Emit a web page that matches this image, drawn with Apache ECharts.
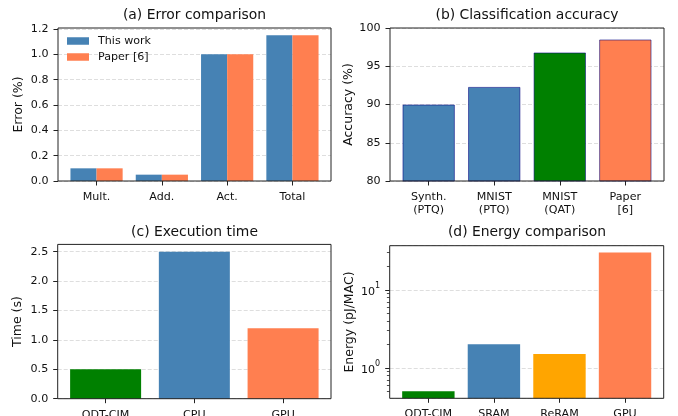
<!DOCTYPE html>
<html>
<head>
<meta charset="utf-8">
<script src="https://cdn.jsdelivr.net/npm/echarts@6/dist/echarts.min.js"></script>
<style>html,body{margin:0;padding:0;background:#fff}#c{width:678px;height:416px}</style>
</head>
<body>
<div id="c"></div>
<script>
// ---- data ----
const errCats = ['Mult.', 'Add.', 'Act.', 'Total'];
const errThisWork = [0.1, 0.05, 1.0, 1.15];
const errPaper = [0.1, 0.05, 1.0, 1.15];
const errTicks = [0, 0.2, 0.4, 0.6, 0.8, 1.0, 1.2];

const accCats = ['Synth.\n(PTQ)', 'MNIST\n(PTQ)', 'MNIST\n(QAT)', 'Paper\n[6]'];
const accValues = [90.0, 92.3, 96.8, 98.5];
const accTicks = [80, 85, 90, 95, 100];

const timeCats = ['ODT-CIM', 'CPU', 'GPU'];
const timeValues = [0.5, 2.5, 1.2];
const timeTicks = [0, 0.5, 1.0, 1.5, 2.0, 2.5];

const energyCats = ['ODT-CIM', 'SRAM', 'ReRAM', 'GPU'];
const energyValues = [0.5, 2.0, 1.5, 30];
const energyMinorTicks = [0.5, 0.6, 0.7, 0.8, 0.9, 2, 3, 4, 5, 6, 7, 8, 9, 20, 30];

// ---- styles ----
const FONT = 'DejaVu Sans';
const TXT = '#111';
const STEEL = '#4682B4', CORAL = '#FF7F50', GREEN = '#008000', ORANGE = '#FFA500';
const accColors = [STEEL, STEEL, GREEN, CORAL];
const timeColors = [GREEN, STEEL, CORAL];
const energyColors = [GREEN, STEEL, ORANGE, CORAL];

const tickFont = {fontSize: 11.1, color: TXT, fontFamily: FONT};
const nameFont = {fontSize: 12.5, color: TXT, fontFamily: FONT};
const split = {show: true, lineStyle: {color: '#dedede', type: [4, 2], width: 1}};

function frameGrid(l, t, w, h) {
  return {left: l, top: t, width: w, height: h, show: true, borderColor: '#222', borderWidth: 1,
    backgroundColor: 'transparent', z: 3, outerBoundsMode: 'none', containLabel: false};
}
function dataGrid(l, t, w, h) {
  return {left: l, top: t, width: w, height: h, outerBoundsMode: 'none', containLabel: false};
}
function frameX(gi) { return {gridIndex: gi, type: 'category', show: false, data: ['a']}; }
function dataX(gi, cats) {
  return {gridIndex: gi, type: 'category', data: cats,
    axisLine: {show: false},
    axisTick: {show: true, alignWithLabel: true, length: 4.5, lineStyle: {color: '#222'}},
    axisLabel: Object.assign({margin: 9.5, lineHeight: 13, interval: 0}, tickFont),
    splitLine: {show: false}};
}
function frameY(gi, min, max, ticks, dec, name) {
  return {gridIndex: gi, type: 'value', min: min, max: max, position: 'left',
    axisLine: {show: false},
    axisTick: {show: true, length: 4.5, customValues: ticks, lineStyle: {color: '#222'}},
    axisLabel: Object.assign({customValues: ticks, margin: 9.5, formatter: v => Number(v).toFixed(dec)}, tickFont),
    splitLine: split,
    name: name, nameLocation: 'middle', nameGap: 33, nameTextStyle: nameFont};
}
function hiddenY(gi, min, max) { return {gridIndex: gi, type: 'value', min: min, max: max, show: false}; }

const eMin = 0.407, eMax = 36.8;

const option = {
  animation: false,
  grid: [
    frameGrid(58, 28, 273, 153), dataGrid(63.9, 28, 261.2, 153),
    frameGrid(390, 28, 274, 153), dataGrid(395.9, 28, 262.2, 153),
    frameGrid(57.7, 244.4, 273.3, 154.3), dataGrid(61.25, 244.4, 266.2, 154.3),
    frameGrid(389.7, 245.7, 274, 152.6), dataGrid(395.6, 245.7, 262.2, 152.6)
  ],
  xAxis: [
    frameX(0), dataX(1, errCats),
    frameX(2), dataX(3, accCats),
    frameX(4), dataX(5, timeCats),
    frameX(6), dataX(7, energyCats)
  ],
  yAxis: [
    frameY(0, 0, 1.2075, errTicks, 1, 'Error (%)'), hiddenY(1, 0, 1.2075),
    frameY(2, 80, 100, accTicks, 0, 'Accuracy (%)'), hiddenY(3, 80, 100),
    frameY(4, 0, 2.625, timeTicks, 1, 'Time (s)'), hiddenY(5, 0, 2.625),
    {gridIndex: 6, type: 'log', logBase: 10, min: eMin, max: eMax, position: 'left',
      axisLine: {show: false},
      axisTick: {show: true, length: 4.5, lineStyle: {color: '#222'}},
      axisLabel: {showMinLabel: false, showMaxLabel: false, margin: 9.5,
        formatter: v => '{b|10}{s|' + Math.round(Math.log10(v)) + '}',
        rich: {b: {fontSize: 11.1, color: TXT, fontFamily: FONT, lineHeight: 15, verticalAlign: 'bottom'},
               s: {fontSize: 8, color: TXT, fontFamily: FONT, lineHeight: 8, verticalAlign: 'top'}}},
      splitLine: split,
      name: 'Energy (pJ/MAC)', nameLocation: 'middle', nameGap: 33, nameTextStyle: nameFont},
    {gridIndex: 7, type: 'log', logBase: 10, min: eMin, max: eMax, show: false, startValue: eMin},
    {gridIndex: 6, type: 'log', logBase: 10, min: eMin, max: eMax, position: 'left', offset: 0,
      axisLine: {show: false}, axisLabel: {show: false}, splitLine: {show: false},
      axisTick: {show: true, length: 2.8, customValues: energyMinorTicks, lineStyle: {color: '#222', width: 0.8}}}
  ],
  legend: {
    data: ['This work', 'Paper [6]'], orient: 'vertical', left: 67, top: 34.5, padding: 0,
    itemWidth: 22, itemHeight: 7.5, itemGap: 3, icon: 'rect',
    textStyle: {fontSize: 11.1, color: TXT, fontFamily: FONT, lineHeight: 13, padding: [0, 0, 0, 4]}
  },
  graphic: [
    {type: 'text', x: 194.5, y: 15, style: {text: '(a) Error comparison', font: '13.9px "DejaVu Sans"', fill: TXT, textAlign: 'center', textVerticalAlign: 'middle'}},
    {type: 'text', x: 527, y: 15, style: {text: '(b) Classification accuracy', font: '13.9px "DejaVu Sans"', fill: TXT, textAlign: 'center', textVerticalAlign: 'middle'}},
    {type: 'text', x: 194.5, y: 232.7, style: {text: '(c) Execution time', font: '13.9px "DejaVu Sans"', fill: TXT, textAlign: 'center', textVerticalAlign: 'middle'}},
    {type: 'text', x: 527, y: 232.7, style: {text: '(d) Energy comparison', font: '13.9px "DejaVu Sans"', fill: TXT, textAlign: 'center', textVerticalAlign: 'middle'}}
  ],
  series: [
    {type: 'bar', name: 'This work', xAxisIndex: 1, yAxisIndex: 1, data: errThisWork, barWidth: 26.1, barGap: '0%', itemStyle: {color: STEEL}},
    {type: 'bar', name: 'Paper [6]', xAxisIndex: 1, yAxisIndex: 1, data: errPaper, barWidth: 26.1, barGap: '0%', itemStyle: {color: CORAL}},
    {type: 'bar', xAxisIndex: 3, yAxisIndex: 3, barWidth: 52.4,
      data: accValues.map((v, i) => ({value: v, itemStyle: {color: accColors[i], borderColor: 'rgba(0,0,128,0.55)', borderWidth: 1}}))},
    {type: 'bar', xAxisIndex: 5, yAxisIndex: 5, barWidth: 71,
      data: timeValues.map((v, i) => ({value: v, itemStyle: {color: timeColors[i]}}))},
    {type: 'bar', xAxisIndex: 7, yAxisIndex: 7, barWidth: 52.4,
      data: energyValues.map((v, i) => ({value: v, itemStyle: {color: energyColors[i]}}))}
  ]
};
const chart = echarts.init(document.getElementById('c'), null, {renderer: 'canvas'});
chart.setOption(option);
</script>
</body>
</html>
